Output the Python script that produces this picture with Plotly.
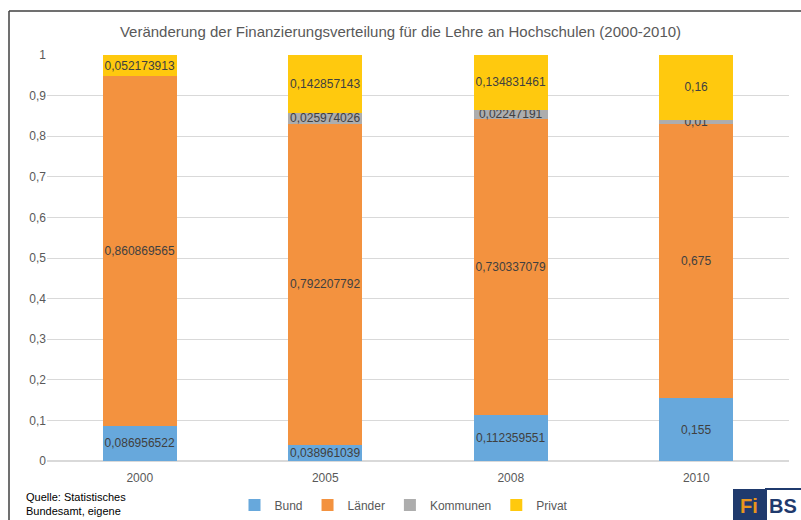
import plotly.graph_objects as go

# Anteile je Finanzierungsquelle
years = ['2000', '2005', '2008', '2010']
bund = [0.086956522, 0.038961039, 0.112359551, 0.155]
laender = [0.860869565, 0.792207792, 0.730337079, 0.675]
kommunen = [None, 0.025974026, 0.02247191, 0.01]
privat = [0.052173913, 0.142857143, 0.134831461, 0.16]

y_ticks = [0, 0.1, 0.2, 0.3, 0.4, 0.5, 0.6, 0.7, 0.8, 0.9, 1]

W, H = 801, 520
L, R, T, B = 47, 12, 55, 59
plot_w = W - L - R
plot_h = H - T - B


def px_x(p):
    return (p - L) / plot_w


def px_y(p):
    return (H - B - p) / plot_h


def label(values):
    return ['' if v is None else str(v).replace('.', ',') for v in values]


series = [
    ('Bund', bund, '#67A8DC'),
    ('Länder', laender, '#F3923F'),
    ('Kommunen', kommunen, '#ADADAD'),
    ('Privat', privat, '#FFC90E'),
]

fig = go.Figure()
for name, values, color in series:
    fig.add_trace(go.Bar(
        x=years, y=values, name=name,
        marker=dict(color=color, line=dict(width=0)),
        text=label(values), textposition='inside', insidetextanchor='middle',
        constraintext='none', textangle=0,
        textfont=dict(family='Liberation Sans, Arial', size=12, color='#404040'),
        hoverinfo='name+y',
    ))

fig.update_layout(
    barmode='stack', bargap=0.6,
    width=W, height=H, autosize=False,
    margin=dict(l=L, r=R, t=T, b=B, autoexpand=False),
    paper_bgcolor='white', plot_bgcolor='white',
    separators=', ',
    font=dict(family='Liberation Sans, Arial', size=12, color='#595959'),
    title=dict(text='Veränderung der Finanzierungsverteilung für die Lehre an Hochschulen (2000-2010)',
               x=0.5, xanchor='center', y=1 - 32 / H, yanchor='middle',
               font=dict(size=15, color='#595959')),
    xaxis=dict(showgrid=False, showline=False, ticks='', ticklabelstandoff=8,
               tickfont=dict(size=12, color='#595959')),
    yaxis=dict(range=[0, 1], tickvals=y_ticks, showgrid=True, gridcolor='#D9D9D9', gridwidth=1,
               zeroline=True, zerolinecolor='#D9D9D9', showline=False, ticks='',
               tickfont=dict(size=12, color='#595959')),
    legend=dict(orientation='h', x=0.5 - 14 / plot_w, xanchor='center', y=px_y(505), yanchor='middle',
                font=dict(size=12, color='#595959'), itemwidth=30, traceorder='normal'),
    showlegend=True,
)

# Rahmen oben und links
fig.add_shape(type='line', xref='paper', yref='paper', x0=px_x(9), x1=px_x(W + 5), y0=px_y(11), y1=px_y(11),
              line=dict(color='#404040', width=1.5))
fig.add_shape(type='line', xref='paper', yref='paper', x0=px_x(9), x1=px_x(9), y0=px_y(11), y1=px_y(H + 5),
              line=dict(color='#404040', width=1.5))

# Quelle
fig.add_annotation(text='Quelle: Statistisches<br>Bundesamt, eigene', xref='paper', yref='paper',
                   x=px_x(24), y=px_y(504), xanchor='left', yanchor='middle', align='left', showarrow=False,
                   font=dict(size=11, color='#000000'))

# Logo FiBS
fig.add_shape(type='rect', xref='paper', yref='paper', x0=px_x(733), x1=px_x(766), y0=px_y(489), y1=px_y(H + 2),
              fillcolor='#1F3A6D', line=dict(width=0))
fig.add_shape(type='rect', xref='paper', yref='paper', x0=px_x(766), x1=px_x(W + 2), y0=px_y(489), y1=px_y(H + 2),
              fillcolor='white', line=dict(color='#1F3A6D', width=2))
fig.add_annotation(text='<b>Fi</b>', xref='paper', yref='paper', x=px_x(749), y=px_y(506),
                   xanchor='center', yanchor='middle', showarrow=False,
                   font=dict(family='Liberation Sans Narrow, Liberation Sans', size=20, color='#E8951E'))
fig.add_annotation(text='<b>BS</b>', xref='paper', yref='paper', x=px_x(783), y=px_y(506),
                   xanchor='center', yanchor='middle', showarrow=False,
                   font=dict(family='Liberation Sans Narrow, Liberation Sans', size=20, color='#1F3A6D'))

# Seitenrand des Browsers entfernen, damit die Grafik bündig sitzt
fig.write_html('out.html', config={'displayModeBar': False},
               post_script="document.body.style.margin='0';document.body.style.overflow='hidden';")
